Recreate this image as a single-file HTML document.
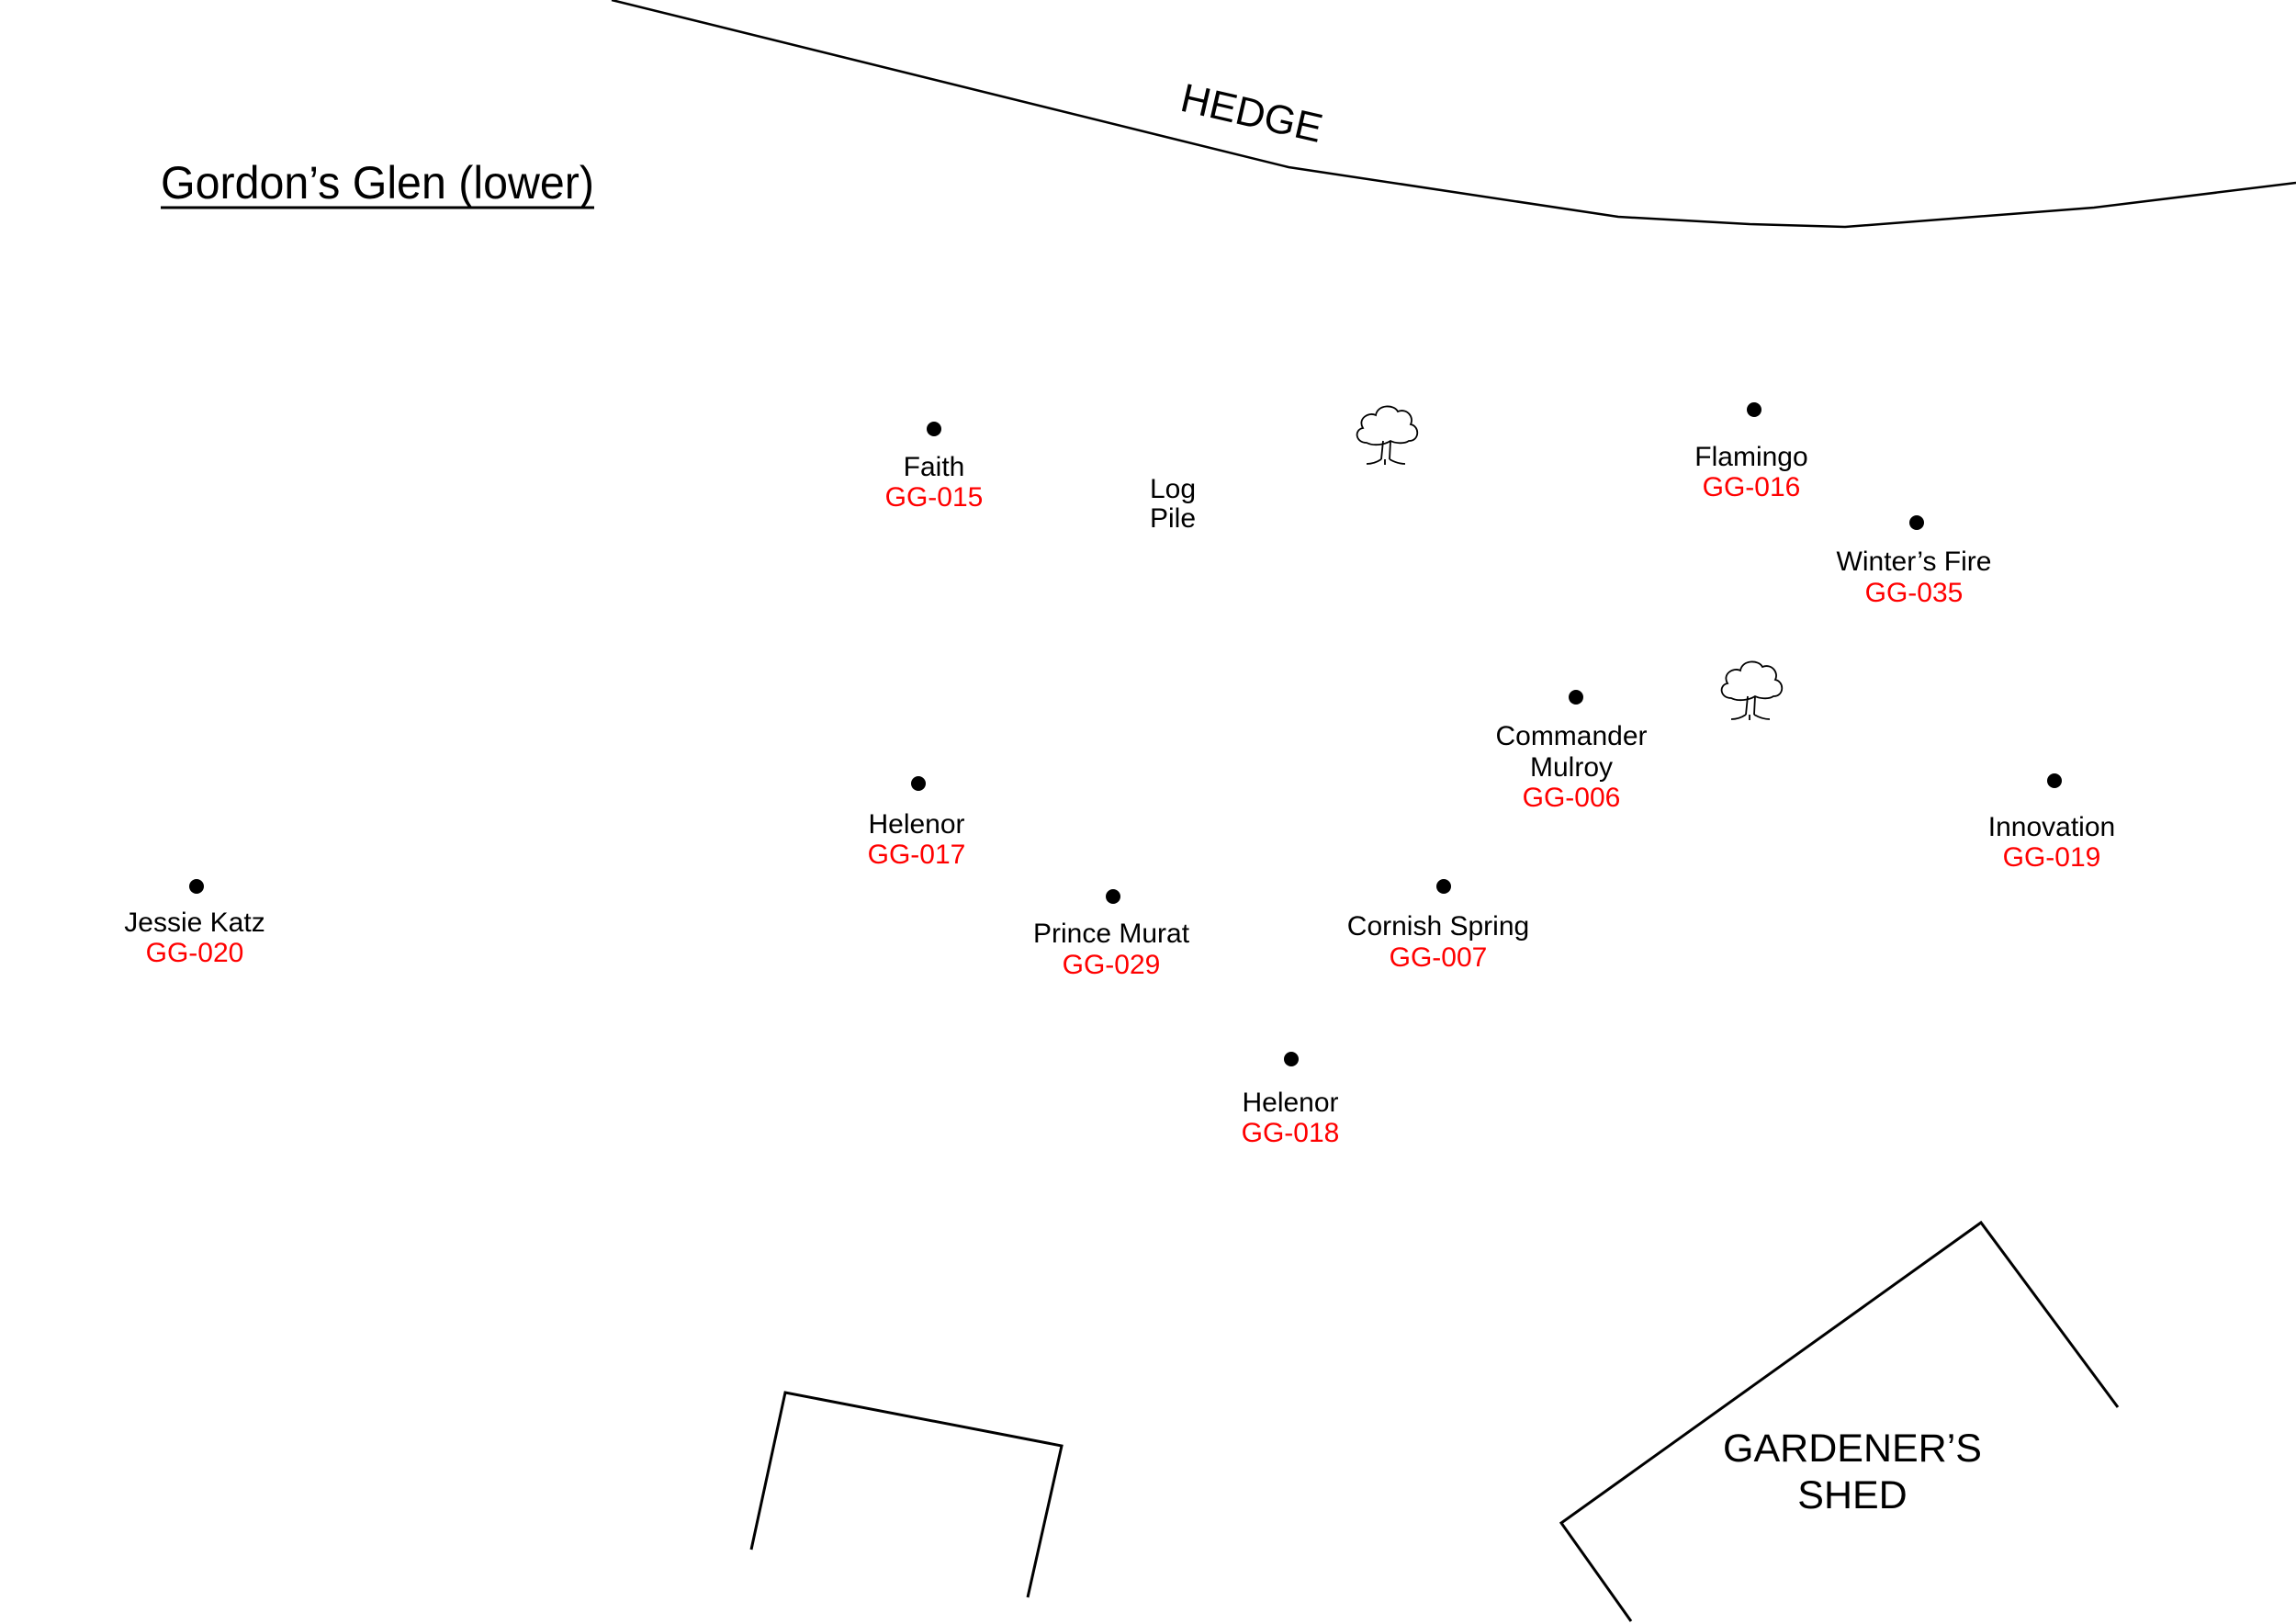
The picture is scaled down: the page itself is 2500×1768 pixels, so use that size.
<!DOCTYPE html>
<html><head><meta charset="utf-8"><style>
html,body{margin:0;padding:0;background:#fff;}
svg{display:block;}
text{font-family:"Liberation Sans",sans-serif;}
</style></head><body>
<svg width="2500" height="1768" viewBox="0 0 2500 1768" xmlns="http://www.w3.org/2000/svg">
<rect width="2500" height="1768" fill="#fff"/>
<polyline points="666,0 1403,182 1762,236 1905,244 2009,247 2280,226 2500,199" fill="none" stroke="#000" stroke-width="2.5"/>
<text x="1363" y="138" font-size="44" text-anchor="middle" transform="rotate(13 1363 123)">HEDGE</text>
<text x="175" y="216" font-size="50" textLength="472" lengthAdjust="spacingAndGlyphs">Gordon’s Glen (lower)</text>
<line x1="175" y1="226" x2="647" y2="226" stroke="#000" stroke-width="3"/>

<g fill="#000">
<circle cx="1017" cy="467" r="8"/>
<circle cx="1910" cy="446" r="8"/>
<circle cx="2087" cy="569" r="8"/>
<circle cx="1716" cy="759" r="8"/>
<circle cx="2237" cy="850" r="8"/>
<circle cx="1000" cy="853" r="8"/>
<circle cx="214" cy="965" r="8"/>
<circle cx="1212" cy="976" r="8"/>
<circle cx="1572" cy="965" r="8"/>
<circle cx="1406" cy="1153" r="8"/>
</g>

<g font-size="30" text-anchor="middle" transform="translate(0,-2)">
<text x="1017" y="520">Faith</text><text x="1017" y="553" fill="#f00">GG-015</text>
<text x="1277" y="544">Log</text><text x="1277" y="576">Pile</text>
<text x="1907" y="509">Flamingo</text><text x="1907" y="542" fill="#f00">GG-016</text>
<text x="2084" y="623">Winter’s Fire</text><text x="2084" y="657" fill="#f00">GG-035</text>
<text x="1711" y="813">Commander</text><text x="1711" y="847">Mulroy</text><text x="1711" y="880" fill="#f00">GG-006</text>
<text x="2234" y="912">Innovation</text><text x="2234" y="945" fill="#f00">GG-019</text>
<text x="998" y="909">Helenor</text><text x="998" y="942" fill="#f00">GG-017</text>
<text x="212" y="1016">Jessie Katz</text><text x="212" y="1049" fill="#f00">GG-020</text>
<text x="1210" y="1028">Prince Murat</text><text x="1210" y="1062" fill="#f00">GG-029</text>
<text x="1566" y="1020">Cornish Spring</text><text x="1566" y="1054" fill="#f00">GG-007</text>
<text x="1405" y="1212">Helenor</text><text x="1405" y="1245" fill="#f00">GG-018</text>
</g>

<defs>
<g id="tree" fill="#fff" stroke="#000" stroke-width="1.8">
<path d="M-22,8 C-34,8 -36,-6 -26,-8 C-32,-18 -20,-26 -12,-22 C-10,-34 8,-34 12,-26 C22,-30 30,-20 26,-12 C36,-10 36,6 24,6 C18,10 8,8 4,6 C-2,10 -14,12 -22,8 Z"/>
<path d="M-4,6 L-6,26 M4,6 L3,26 M-6,26 C-12,30 -18,31 -22,31 M3,26 C10,30 16,31 20,31 M-2,26 L-2,32" fill="none"/>
</g>
</defs>
<use href="#tree" x="1510" y="474"/>
<use href="#tree" x="1907" y="752"/>

<polyline points="818,1687 855,1516 1156,1574 1119,1739" fill="none" stroke="#000" stroke-width="3"/>
<polyline points="1776,1765 1700,1658 2157,1331 2306,1532" fill="none" stroke="#000" stroke-width="3"/>
<g font-size="43" text-anchor="middle">
<text x="2017" y="1591">GARDENER’S</text>
<text x="2017" y="1642">SHED</text>
</g>
</svg>
</body></html>
